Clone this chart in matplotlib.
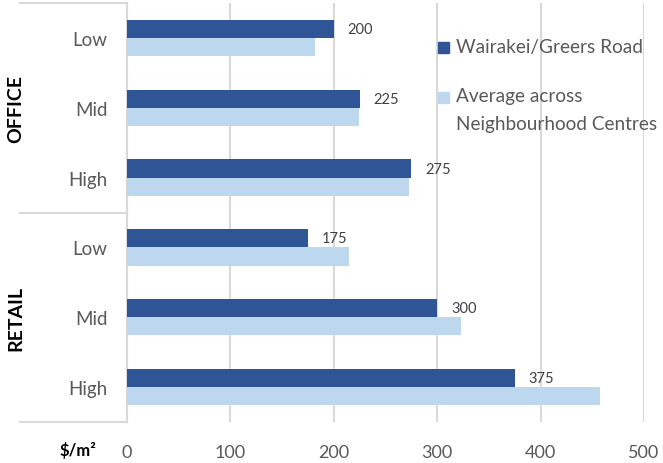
import numpy as np
import matplotlib
matplotlib.use('Agg')
import matplotlib.pyplot as plt
from matplotlib.patches import Rectangle

plt.rcParams['font.family'] = ['Lato', 'DejaVu Sans']

# data
levels = ['Low', 'Mid', 'High', 'Low', 'Mid', 'High']
groups = ['OFFICE', 'RETAIL']
wairakei = [200, 225, 275, 175, 300, 375]
average = [182, 224, 273, 215, 323, 457]
xticks = [0, 100, 200, 300, 400, 500]
series_names = ['Wairakei/Greers Road', 'Average across\nNeighbourhood Centres']

dark = '#2f5597'
light = '#bdd7ee'
grid = '#d9d9d9'
grey = '#595959'

W, H = 663, 464
fig = plt.figure(figsize=(W / 100, H / 100), dpi=100)
ax = fig.add_axes([127 / W, 1 - 423 / H, 517 / W, 419 / H])

y = np.arange(len(levels))
h = 0.26
ax.barh(y - h / 2, wairakei, height=h, color=dark, zorder=3)
ax.barh(y + h / 2, average, height=h, color=light, zorder=3)

for yi, v in zip(y, wairakei):
    ax.annotate(str(v), (v, yi - h / 2), xytext=(10, 0), textcoords='offset points',
                ha='left', va='center', fontsize=10.5, color='#404040')

ax.set_xlim(0, 500)
ax.set_ylim(5.5, -0.5)
ax.set_xticks(xticks)
ax.set_xticklabels([str(t) for t in xticks], fontsize=13, color=grey)
ax.set_yticks(y)
ax.set_yticklabels(levels, fontsize=13.5, color=grey)
ax.tick_params(axis='both', length=0)
ax.tick_params(axis='y', pad=14)
ax.tick_params(axis='x', pad=16)
ax.xaxis.grid(True, color=grid, linewidth=1.5, zorder=0)
ax.set_axisbelow(True)
for s in ['top', 'right', 'bottom']:
    ax.spines[s].set_visible(False)
ax.spines['left'].set_color(grid)
ax.spines['left'].set_linewidth(1.5)

# group separators and labels
tr = ax.get_yaxis_transform()
for yy in [-0.5, 2.5, 5.5]:
    ax.plot([-0.207, 0], [yy, yy], transform=tr, color=grid, lw=1.5, clip_on=False)
ax.text(-0.215, 1.0, groups[0], transform=tr, rotation=90, ha='center', va='center',
        fontsize=14, fontweight='bold', color='black')
ax.text(-0.215, 4.0, groups[1], transform=tr, rotation=90, ha='center', va='center',
        fontsize=14, fontweight='bold', color='black')

fig.text(78 / W, 1 - 451 / H, '$/m²', ha='center', va='center',
         fontsize=12, fontweight='bold', color='black')

# legend, drawn by hand so the square sits beside the first line
for col, ytop, ytxt, name in [(dark, 43, 48, series_names[0]),
                              (light, 93, 110.5, series_names[1])]:
    fig.patches.append(Rectangle((438 / W, 1 - (ytop + 11) / H), 11 / W, 11 / H,
                                 color=col, transform=fig.transFigure))
    fig.text(456 / W, 1 - ytxt / H, name, ha='left', va='center', fontsize=13.7,
             color=grey, linespacing=1.75)

fig.savefig('out.png', dpi=100)
